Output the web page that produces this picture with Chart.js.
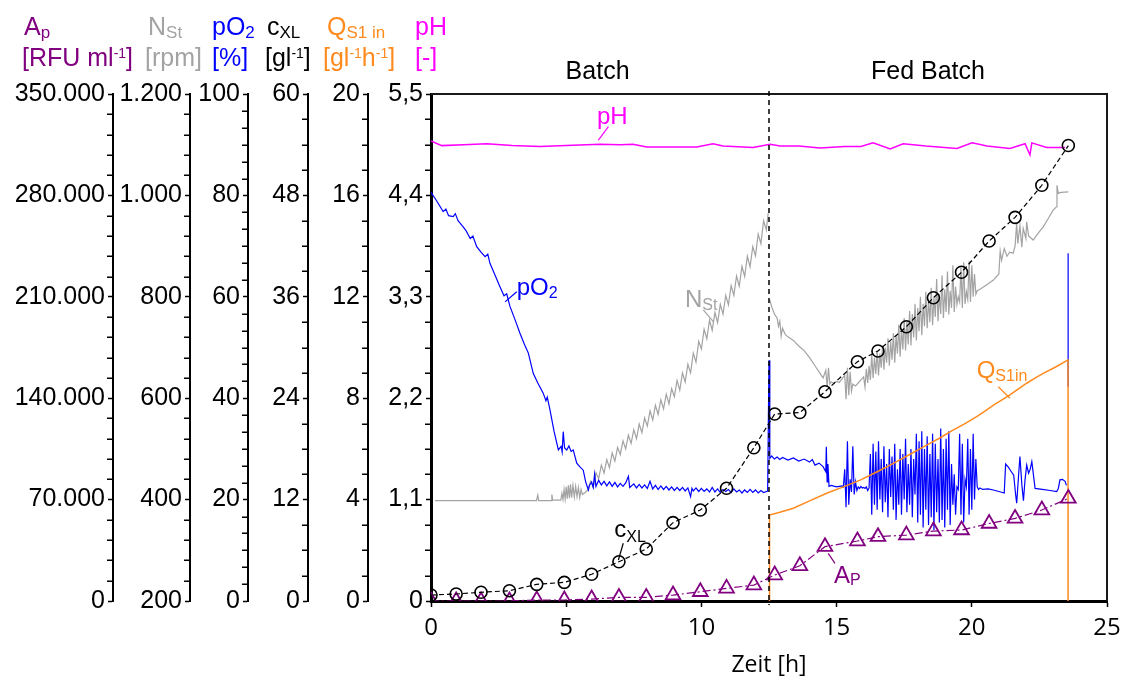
<!DOCTYPE html>
<html><head><meta charset="utf-8">
<script src="https://cdn.jsdelivr.net/npm/chart.js@4"></script>
<style>html,body{margin:0;padding:0;background:#fff;}canvas{display:block;}</style>
</head><body>
<canvas id="c" width="1128" height="680"></canvas>
<script>
// ---------------- DATA ----------------
const sampleTime = [0, 0.93, 1.85, 2.9, 3.91, 4.93, 5.94, 6.95, 7.96, 8.95, 9.96, 10.93, 11.94, 12.71, 13.64, 14.57, 15.77, 16.53, 17.58, 18.58, 19.62, 20.64, 21.6, 22.59, 23.57];
const cxlValue = [0.71, 0.83, 1.03, 1.22, 1.97, 2.21, 3.16, 4.65, 6.15, 9.27, 10.77, 13.34, 18.14, 22.13, 22.3, 24.77, 28.32, 29.59, 32.46, 35.89, 38.9, 42.6, 45.4, 49.2, 53.9];
const apValue = [0, 0, 0, 0, 700, 700, 1350, 2450, 2450, 4100, 6400, 8700, 11000, 17900, 24300, 37500, 41400, 44400, 45500, 48300, 49000, 53500, 57000, 62800, 70800];

const phSeries = [[0,4.99],[0.4,4.94],[1.2,4.95],[2.06,4.96],[3.0,4.94],[4.03,4.93],[5.0,4.94],[6.25,4.955],[7.0,4.95],[7.47,4.955],[7.98,4.925],[9.0,4.925],[9.83,4.925],[10.43,4.96],[10.8,4.935],[11.91,4.92],[12.54,4.955],[12.91,4.935],[13.6,4.935],[14.39,4.915],[15.3,4.93],[15.9,4.93],[16.35,4.97],[16.98,4.905],[17.46,4.96],[18.3,4.935],[19.45,4.91],[20.01,4.97],[20.56,4.935],[21.41,4.91],[21.97,4.96],[22.15,4.84],[22.22,4.97],[22.77,4.92],[23.45,4.92]];

const po2Series = [[0,80.6],[0.2,79.0],[0.45,76.8],[0.55,77.3],[0.65,76.0],[0.82,75.8],[0.9,76.4],[1.0,75.0],[1.19,73.8],[1.3,73.0],[1.45,71.5],[1.55,72.0],[1.69,69.9],[1.85,68.8],[2.0,67.9],[2.1,68.4],[2.18,66.6],[2.35,64.5],[2.55,62.0],[2.7,60.2],[2.8,60.6],[2.92,58.1],[3.1,55.6],[3.29,52.8],[3.45,50.7],[3.6,48.9],[3.78,44.9],[3.95,43.0],[4.15,41.0],[4.25,39.5],[4.3,40.2],[4.4,37.7],[4.55,33.5],[4.71,29.8],[4.81,30.5],[4.85,29.4],[4.89,33.4],[4.94,30.2],[5.02,29.8],[5.1,30.6],[5.18,29.5],[5.26,29.8],[5.39,27.2],[5.5,26.5],[5.63,25.8],[5.72,23.5],[5.82,21.9],[5.86,22.8],[5.94,23.5],[6.0,22.4],[6.05,25.0],[6.1,22.6],[6.2,23.8],[6.3,22.9],[6.4,23.6],[6.5,22.7],[6.6,23.5],[6.7,22.6],[6.8,23.4],[6.9,22.5],[7.0,23.2],[7.1,22.6],[7.2,23.3],[7.3,24.6],[7.35,22.4],[7.5,23.1],[7.6,22.3],[7.7,23.0],[7.8,22.3],[7.9,22.9],[8.0,22.2],[8.1,23.6],[8.2,22.1],[8.3,22.8],[8.4,22.0],[8.5,22.7],[8.6,22.0],[8.7,22.6],[8.8,21.9],[8.9,22.5],[9.0,21.8],[9.1,22.4],[9.2,21.8],[9.3,22.4],[9.4,21.7],[9.5,22.3],[9.6,20.6],[9.65,22.2],[9.7,21.7],[9.8,22.3],[9.9,21.6],[10.0,22.2],[10.1,21.6],[10.2,22.1],[10.3,21.5],[10.4,22.4],[10.5,21.5],[10.6,22.1],[10.7,21.4],[10.8,22.0],[10.9,21.6],[11.0,22.0],[11.1,21.4],[11.2,22.1],[11.3,21.5],[11.4,21.9],[11.5,21.3],[11.6,21.9],[11.7,21.4],[11.8,22.0],[11.9,21.4],[12.0,21.9],[12.1,21.3],[12.2,21.8],[12.3,21.4],[12.45,21.7],
[12.5,47.5],[12.53,28.1],[12.6,28.6],[12.7,28.0],[12.8,28.4],[12.9,27.9],[13.0,28.3],[13.2,27.8],[13.4,28.2],[13.6,27.6],[13.8,28.0],[14.0,27.4],[14.1,27.9],[14.2,26.8],[14.35,27.2],[14.5,26.5],[14.6,25.5],[14.62,30.4],[14.65,23.5],[14.68,27.0],[14.72,22.6],[14.8,22.8],[15.0,22.5],[15.2,22.7],[15.25,22.5],
[15.30,26],[15.35,18.5],[15.40,31.5],[15.45,19],[15.50,24],[15.55,21.5],[15.60,30.5],[15.65,21],[15.70,23.5],[15.75,21.8],[15.80,22.5],[15.85,22.2],[15.90,22.6],[15.95,22.3],[16.00,22.4],[16.05,22.2],[16.10,22.5],[16.15,21.8],[16.20,22.3],[16.25,29],[16.30,17],[16.35,31],[16.40,19],[16.45,29.5],[16.50,18],[16.55,31.5],[16.60,20],[16.65,28],[16.70,17.5],[16.75,30.5],[16.80,19.5],[16.85,27],[16.90,16.5],[16.95,30],[17.00,20.5],[17.05,28.5],[17.10,18],[17.15,31],[17.20,16],[17.25,26],[17.30,19],[17.35,30],[17.40,17],[17.45,29],[17.50,20],[17.55,32],[17.60,17.5],[17.65,27],[17.70,19],[17.75,30],[17.80,16.5],[17.85,28],[17.90,21],[17.95,33],[18.00,15.5],[18.05,31.5],[18.10,17],[18.15,33.5],[18.20,14.5],[18.25,30],[18.30,18],[18.35,32.5],[18.40,15],[18.45,29],[18.50,16.5],[18.55,33],[18.60,14],[18.65,31],[18.70,17.5],[18.75,28],[18.80,15.5],[18.85,34],[18.90,16],[18.95,30],[19.00,14.5],[19.05,32],[19.10,18],[19.15,33.5],[19.20,15],[19.25,27],[19.30,19],[19.35,25],[19.40,17],[19.45,22.5],[19.50,22],[19.55,33],[19.60,17],[19.65,31],[19.70,15.5],[19.75,24],[19.80,22.5],[19.85,32],[19.90,17],[19.95,30],[20.00,18],[20.05,33],[20.10,20],[20.15,28],[20.20,22.5],[20.25,22.0],
[20.3,22.3],[20.4,22.0],[20.6,22.1],[20.8,21.9],[21.0,21.6],[21.2,21.3],[21.25,27.0],[21.35,26.4],[21.45,25.6],[21.55,24.8],[21.62,21.0],[21.66,19.3],[21.72,24.0],[21.78,28.5],[21.85,23.0],[21.91,19.8],[21.97,24.0],[22.03,26.8],[22.1,25.2],[22.16,26.0],[22.22,27.5],[22.3,24.0],[22.34,22.2],[22.6,22.0],[22.9,21.8],[23.14,21.6],[23.2,22.2],[23.26,23.9],[23.35,24.0],[23.45,23.6],[23.5,22.8],[23.53,null],[23.56,42.3],[23.56,68.6],[23.565,42.3]];

const nstSeries = [[0.15,398],[3.9,398],[3.95,409],[3.98,398],[4.45,398],[4.47,410],[4.5,399],[4.8,399],[4.84,412],[4.88,400],[4.92,420],[4.96,401],[5.0,425],[5.04,402],[5.08,428],[5.12,403],[5.16,430],[5.2,404],[5.25,428],[5.3,405],[5.35,426],[5.4,406],[5.45,424],[5.5,404],[5.55,420],[5.6,410],[5.7,414],
[5.8,419],[5.9,436],[6.0,424],[6.1,453],[6.2,441],[6.3,468],[6.4,452],[6.5,479],[6.6,463],[6.7,492],[6.8,476],[6.9,503],[7.0,489],[7.1,516],[7.2,500],[7.3,527],[7.4,511],[7.5,538],[7.6,520],[7.7,549],[7.8,532],[7.9,561],[8.0,545],[8.1,575],[8.2,557],[8.3,586],[8.4,568],[8.5,597],[8.6,579],[8.7,608],[8.8,589],[8.9,619],[9.0,603],[9.1,635],[9.2,616],[9.3,650],[9.4,632],[9.5,667],[9.6,650],[9.7,689],[9.8,671],[9.9,712],[10.0,697],[10.1,736],[10.2,717],[10.3,754],[10.4,734],[10.5,769],[10.6,749],[10.7,785],[10.8,766],[10.9,803],[11.0,784],[11.1,822],[11.2,803],[11.3,841],[11.4,821],[11.5,860],[11.6,840],[11.7,880],[11.8,859],[11.9,899],[12.0,881],[12.1,924],[12.2,905],[12.3,950],[12.4,932],[12.47,965],[12.5,null],
[12.53,794],[12.6,780],[12.7,766],[12.8,758],[12.85,742],[12.9,752],[12.95,722],[13.0,738],[13.1,726],[13.2,721],[13.4,714],[13.6,703],[13.8,694],[14.0,680],[14.2,664],[14.4,648],[14.5,640],[14.6,655],[14.65,622],[14.7,660],[14.75,628],[14.8,632],[14.9,630],[15.0,633],[15.1,631],[15.2,638],
[15.3,645],[15.35,598],[15.4,660],[15.45,606],[15.5,652],[15.55,614],[15.6,628],[15.7,624],[15.8,630],[15.9,636],[16.0,642],[16.05,622],[16.1,658],[16.15,630],[16.2,664],[16.25,636],[16.3,686],[16.35,640],[16.4,680],[16.45,648],[16.5,694],[16.55,645],[16.6,688],[16.65,660],[16.7,704],[16.75,656],[16.8,700],[16.85,670],[16.9,718],[16.95,664],[17.0,712],[17.05,676],[17.1,728],[17.15,670],[17.2,724],[17.25,688],[17.3,745],[17.35,682],[17.4,738],[17.45,696],[17.5,758],[17.55,694],[17.6,752],[17.65,706],[17.7,772],[17.75,704],[17.8,766],[17.85,720],[17.9,786],[17.95,714],[18.0,778],[18.05,732],[18.1,800],[18.15,724],[18.2,786],[18.25,742],[18.3,810],[18.35,738],[18.4,796],[18.45,750],[18.5,818],[18.55,744],[18.6,800],[18.65,760],[18.7,835],[18.75,752],[18.8,805],[18.85,766],[18.9,842],[18.95,758],[19.0,815],[19.05,770],[19.1,850],[19.15,765],[19.2,812],[19.25,778],[19.3,862],[19.35,770],[19.4,820],[19.45,785],[19.5,800],[19.55,790],[19.6,858],[19.65,778],[19.7,868],[19.75,786],[19.8,810],[19.85,795],[19.9,870],[19.95,790],[20.0,862],[20.05,800],[20.1,845],[20.15,805],[20.2,812],[20.3,815],[20.5,822],[20.8,833],[21.0,845],[21.05,890],[21.1,872],[21.2,895],[21.3,880],[21.4,888],[21.53,886],[21.6,900],[21.66,945],[21.7,905],[21.78,940],[21.85,898],[21.9,935],[22.0,915],[22.03,948],[22.1,920],[22.27,912],[22.45,925],[22.64,938],[22.8,952],[23.01,971],[23.14,978],[23.15,1020],[23.2,1004],[23.3,1006],[23.57,1007]];

const qSeries = [[12.5,0],[12.52,3.39],[12.9,3.5],[13.4,3.66],[14.0,3.95],[14.63,4.25],[15.25,4.5],[15.87,4.77],[16.5,5.1],[17.1,5.43],[17.7,5.78],[18.33,6.15],[18.8,6.42],[19.32,6.75],[19.75,7.0],[20.18,7.27],[20.5,7.5],[20.8,7.73],[21.1,7.92],[21.41,8.13],[21.7,8.35],[22.03,8.59],[22.35,8.8],[22.64,8.98],[23.1,9.23],[23.51,9.48],[23.56,9.5],[23.56,0]];

const phaseSwitch = 12.5;
const phaseLabels = ['Batch', 'Fed Batch'];

const xTickValues = [0, 5, 10, 15, 20, 25];
const xTickLabels = ['0', '5', '10', '15', '20', '25'];
const apTicks = [0, 70000, 140000, 210000, 280000, 350000];
const apTickLabels = ['0', '70.000', '140.000', '210.000', '280.000', '350.000'];
const nstTicks = [200, 400, 600, 800, 1000, 1200];
const nstTickLabels = ['200', '400', '600', '800', '1.000', '1.200'];
const po2Ticks = [0, 20, 40, 60, 80, 100];
const po2TickLabels = ['0', '20', '40', '60', '80', '100'];
const cxlTicks = [0, 12, 24, 36, 48, 60];
const cxlTickLabels = ['0', '12', '24', '36', '48', '60'];
const qTicks = [0, 4, 8, 12, 16, 20];
const qTickLabels = ['0', '4', '8', '12', '16', '20'];
const phTicks = [0, 1.1, 2.2, 3.3, 4.4, 5.5];
const phTickLabels = ['0', '1,1', '2,2', '3,3', '4,4', '5,5'];

// ---------------- STYLE ----------------
const C_AP = '#800080', C_NST = '#A3A3A3', C_PO2 = '#0000FF', C_CXL = '#000000', C_Q = '#FF8A1E', C_PH = '#FF00FF';
const FONT = '"Liberation Sans", Arial, sans-serif';
const TICK_LEN = 5;

// minor subdivisions per left axis
const minorDefs = [['yAP', apTicks, 5], ['yNST', nstTicks, 5], ['yPO2', po2Ticks, 6], ['yCXL', cxlTicks, 4], ['yQ', qTicks, 4], ['yPH', phTicks, 4]];

function yAxis(majors, labels, width, weight) {
  return {
    type: 'linear', position: 'left', weight: weight,
    min: majors[0], max: majors[majors.length - 1],
    afterBuildTicks(s) { s.ticks = majors.map(v => ({ value: v })); },
    afterFit(s) { s.width = width; },
    grid: { drawOnChartArea: false, drawTicks: true, tickLength: TICK_LEN, tickWidth: 1.5, tickColor: '#000' },
    border: { display: true, color: '#000', width: 2 },
    ticks: {
      autoSkip: false, padding: 3, color: '#000', font: { family: FONT, size: 25 },
      callback(v, i) { return labels[i]; }
    }
  };
}
const toXY = arr => arr.map(p => ({ x: p[0], y: p[1] }));
const zip = (t, v) => t.map((x, i) => ({ x: x, y: v[i] }));

function drawRich(ctx, x, y, parts, color, size) {
  ctx.fillStyle = color; ctx.textAlign = 'left'; ctx.textBaseline = 'alphabetic';
  let cx = x;
  for (const p of parts) {
    const txt = p[0], kind = p[1];
    let fs = size, dy = 0;
    if (kind === 'sub') { fs = Math.round(size * 0.68); dy = (p[2] !== undefined) ? p[2] : 3; }
    else if (kind === 'sup') { fs = Math.round(size * 0.58); dy = -8; }
    ctx.font = fs + 'px ' + FONT;
    ctx.fillText(txt, cx, y + dy);
    cx += ctx.measureText(txt).width;
  }
}

const decor = {
  id: 'decor',
  afterDatasetsDraw(chart) {
    const { ctx, chartArea: a, scales: s } = chart;
    ctx.save();
    ctx.strokeStyle = '#1a1a1a'; ctx.lineWidth = 2;
    ctx.beginPath(); ctx.moveTo(a.left, a.top); ctx.lineTo(a.right, a.top); ctx.lineTo(a.right, a.bottom); ctx.stroke();
    const xp = s.x.getPixelForValue(phaseSwitch);
    ctx.setLineDash([5, 4]); ctx.lineWidth = 1.5; ctx.strokeStyle = '#000';
    ctx.beginPath(); ctx.moveTo(xp, a.top - 3); ctx.lineTo(xp, a.bottom + 4); ctx.stroke();
    ctx.setLineDash([]);
    ctx.fillStyle = '#000'; ctx.font = '25px ' + FONT; ctx.textAlign = 'center'; ctx.textBaseline = 'alphabetic';
    ctx.fillText(phaseLabels[0], s.x.getPixelForValue(6.16), 79);
    ctx.fillText(phaseLabels[1], s.x.getPixelForValue(18.38), 79);
    const X = t => s.x.getPixelForValue(t);
    const lab = [
      { ax: 'yPH', col: C_PH, at: [6.14, 5.175], parts: [['pH']], line: [[6.19, 5.0], [6.56, 5.145]] },
      { ax: 'yPO2', col: C_PO2, at: [3.17, 60.4], parts: [['pO'], ['2', 'sub']], line: [[2.74, 59.0], [3.17, 61.0]] },
      { ax: 'yNST', col: C_NST, at: [9.39, 780], parts: [['N'], ['St', 'sub']], line: [[10.07, 774], [10.44, 751]] },
      { ax: 'yCXL', col: C_CXL, at: [6.78, 7.54], parts: [['c'], ['XL', 'sub', 5]], line: [[7.11, 6.83], [6.93, 4.85]] },
      { ax: 'yQ', col: C_Q, at: [20.18, 8.785], parts: [['Q'], ['S1in', 'sub']], line: [[20.98, 8.45], [21.41, 8.0]] },
      { ax: 'yAP', col: C_AP, at: [14.9, 12219], parts: [['A'], ['P', 'sub', 2]], line: [[14.69, 32929], [14.94, 26026]] }
    ];
    for (const L of lab) {
      const Y = v => s[L.ax].getPixelForValue(v);
      ctx.strokeStyle = L.col; ctx.lineWidth = 1.2;
      ctx.beginPath(); ctx.moveTo(X(L.line[0][0]), Y(L.line[0][1])); ctx.lineTo(X(L.line[1][0]), Y(L.line[1][1])); ctx.stroke();
      drawRich(ctx, X(L.at[0]), Y(L.at[1]), L.parts, L.col, 24);
    }
    ctx.restore();
  },
  afterDraw(chart) {
    const ctx = chart.ctx;
    ctx.save();
    // minor ticks on left axes, positioned by each scale
    ctx.strokeStyle = '#000'; ctx.lineWidth = 1.5;
    for (const [id, majors, sub] of minorDefs) {
      const sc = chart.scales[id];
      const xr = sc.right - 1;
      ctx.beginPath();
      for (let i = 0; i < majors.length - 1; i++) {
        for (let k = 1; k < sub; k++) {
          const v = majors[i] + (majors[i + 1] - majors[i]) * k / sub;
          const y = Math.round(sc.getPixelForValue(v)) + 0.25;
          ctx.moveTo(xr - TICK_LEN, y); ctx.lineTo(xr, y);
        }
      }
      ctx.stroke();
    }
    const r1 = 35, r2 = 66, fs = 25;
    drawRich(ctx, 24, r1, [['A'], ['p', 'sub']], C_AP, fs);
    drawRich(ctx, 22, r2, [['[RFU ml'], ['-1', 'sup'], [']']], C_AP, fs);
    drawRich(ctx, 148, r1, [['N'], ['St', 'sub']], C_NST, fs);
    drawRich(ctx, 145, r2, [['[rpm]']], C_NST, fs);
    drawRich(ctx, 212, r1, [['pO'], ['2', 'sub']], C_PO2, fs);
    drawRich(ctx, 212, r2, [['[%]']], C_PO2, fs);
    drawRich(ctx, 267, r1, [['c'], ['XL', 'sub']], C_CXL, fs);
    drawRich(ctx, 265, r2, [['[gl'], ['-1', 'sup'], [']']], C_CXL, fs);
    drawRich(ctx, 327, r1, [['Q'], ['S1 in', 'sub']], C_Q, fs);
    drawRich(ctx, 323, r2, [['[gl'], ['-1', 'sup'], ['h'], ['-1', 'sup'], [']']], C_Q, fs);
    drawRich(ctx, 415, r1, [['pH']], C_PH, fs);
    drawRich(ctx, 415, r2, [['[-]']], C_PH, fs);
    ctx.restore();
  }
};

const line = (extra) => Object.assign({ pointRadius: 0, tension: 0, fill: false, xAxisID: 'x' }, extra);

new Chart(document.getElementById('c'), {
  type: 'line',
  data: {
    datasets: [
      line({ label: 'cXL', yAxisID: 'yCXL', order: 1, data: zip(sampleTime, cxlValue), borderColor: C_CXL, borderWidth: 1.2, borderDash: [5, 3],
        pointRadius: 6, pointStyle: 'circle', pointBorderColor: C_CXL, pointBackgroundColor: 'rgba(0,0,0,0)', pointBorderWidth: 1.6 }),
      line({ label: 'Ap', yAxisID: 'yAP', order: 2, data: zip(sampleTime, apValue), borderColor: C_AP, borderWidth: 1.2, borderDash: [8, 3, 2, 3],
        pointRadius: 8.5, pointStyle: 'triangle', pointBorderColor: C_AP, pointBackgroundColor: 'rgba(0,0,0,0)', pointBorderWidth: 1.8 }),
      line({ label: 'pH', yAxisID: 'yPH', order: 3, data: toXY(phSeries), borderColor: C_PH, borderWidth: 1.5 }),
      line({ label: 'QS1in', yAxisID: 'yQ', order: 4, data: toXY(qSeries), borderColor: C_Q, borderWidth: 1.5 }),
      line({ label: 'pO2', yAxisID: 'yPO2', order: 5, data: toXY(po2Series), borderColor: C_PO2, borderWidth: 1.2 }),
      line({ label: 'NSt', yAxisID: 'yNST', order: 6, data: toXY(nstSeries), borderColor: C_NST, borderWidth: 1.2 })
    ]
  },
  options: {
    responsive: false, maintainAspectRatio: false, animation: false, devicePixelRatio: 1,
    layout: { padding: { top: 94, right: 21, bottom: 0, left: 0 } },
    plugins: { legend: { display: false }, tooltip: { enabled: false } },
    scales: {
      x: {
        type: 'linear', position: 'bottom', min: 0, max: 25,
        afterBuildTicks(s) { s.ticks = xTickValues.map(v => ({ value: v })); },
        afterFit(s) { s.height = 79; },
        grid: { drawOnChartArea: false, drawTicks: true, tickLength: 6, tickWidth: 1.5, tickColor: '#000' },
        border: { display: true, color: '#000', width: 3 },
        ticks: { autoSkip: false, maxRotation: 0, padding: 7, color: '#000', font: { family: '"Open Sans", sans-serif', size: 24 },
          callback(v, i) { return xTickLabels[i]; } },
        title: { display: true, text: 'Zeit [h]', color: '#000', font: { family: '"Open Sans", sans-serif', size: 23 }, padding: { top: 0, bottom: 1 } }
      },
      yAP: yAxis(apTicks, apTickLabels, 113, 60),
      yNST: yAxis(nstTicks, nstTickLabels, 77, 50),
      yPO2: yAxis(po2Ticks, po2TickLabels, 58, 40),
      yCXL: yAxis(cxlTicks, cxlTickLabels, 60, 30),
      yQ: yAxis(qTicks, qTickLabels, 60, 20),
      yPH: Object.assign(yAxis(phTicks, phTickLabels, 63, 10), { border: { display: true, color: '#000', width: 3 } })
    }
  },
  plugins: [decor]
});
</script>
</body></html>
